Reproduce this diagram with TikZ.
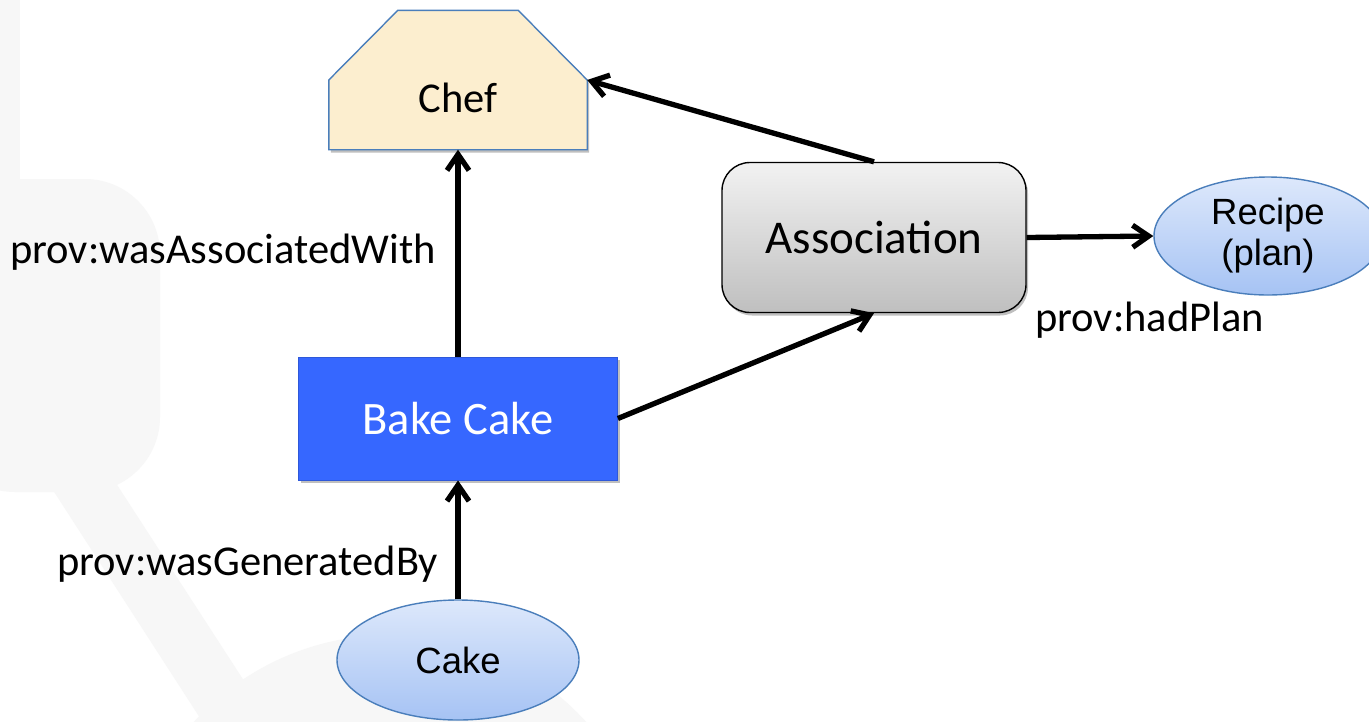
\documentclass[tikz,border=0pt]{standalone}
\usepackage{fontspec}
\setmainfont{Carlito}
\newfontfamily\arialfont{Liberation Sans}
\usetikzlibrary{arrows.meta,shapes.geometric,shadows,calc}

\definecolor{chefFill}{HTML}{FCEECF}
\definecolor{edgeBlue}{HTML}{4A7EBB}
\definecolor{activityBlue}{HTML}{3667FF}
\definecolor{entTop}{HTML}{DDE8FB}
\definecolor{entBot}{HTML}{A6C3F4}
\definecolor{assocTop}{HTML}{F2F2F2}
\definecolor{assocBot}{HTML}{BFBFBF}
\definecolor{wmGray}{HTML}{F7F7F7}

\begin{document}
\begin{tikzpicture}[x=1pt,y=-1pt,
  softshadow/.style={drop shadow={shadow xshift=2pt,shadow yshift=-3pt,opacity=0.25,fill=black}},
  agentframe/.style={rectangle,inner sep=0pt,minimum width=258pt,minimum height=139pt},
  activitybox/.style={rectangle,fill=activityBlue,draw=activityBlue!85!black,line width=0.8pt,
    text=white,minimum width=319pt,minimum height=123pt,inner sep=0pt,
    font=\fontsize{46.5}{52}\selectfont,softshadow},
  assocbox/.style={rectangle,rounded corners=28pt,draw=black,line width=1.4pt,
    top color=assocTop,bottom color=assocBot,minimum width=304pt,minimum height=150pt,
    inner sep=0pt,font=\fontsize{47}{54}\selectfont,softshadow},
  entity/.style={ellipse,draw=edgeBlue,line width=1.4pt,top color=entTop,bottom color=entBot,
    inner sep=0pt,align=center,font=\arialfont\fontsize{36.5}{41}\selectfont},
  lbl/.style={inner sep=0pt,font=\fontsize{42.5}{50}\selectfont},
  provarrow/.style={line width=5.3pt,-{Straight Barb[length=16pt,width=22pt]}}
]
\useasboundingbox (0,0) rectangle (1369,721);
\clip (0,0) rectangle (1369,721);
\fill[white] (0,0) rectangle (1369,721);

% faint logo in the background
\fill[wmGray] (0,0) rectangle (20,200);
\fill[wmGray,rounded corners=75pt] (-60,179) -- (160,179) -- (160,492) -- (-60,492) -- cycle;
\fill[wmGray] (40,470) -- (88,440) -- (270,721) -- (202,721) -- cycle;
\fill[wmGray] (390,900) circle[radius=265pt];

% agent: chamfered house shape
\node[agentframe] (chef) at (458,80) {};
\path[draw=edgeBlue,fill=chefFill,line width=1.4pt,softshadow]
  (chef.south west) -- (chef.west) -- ($(chef.north west)+(69,0)$)
  -- ($(chef.north east)+(-69,0)$) -- (chef.east) -- (chef.south east) -- cycle;
\node[lbl,anchor=base] (chefname) at (458,112) {Chef};

% activity, association and entities
\node[activitybox] (bake) at (458,418.5) {Bake Cake};
\node[assocbox] (assoc) at (874,237.5) {Association};
\node[entity,minimum width=228pt,minimum height=118pt] (recipe) at (1268,236) {Recipe\\(plan)};
\node[entity,minimum width=242pt,minimum height=120pt] (cake) at (458,660) {Cake};

% relations
\draw[provarrow] (bake.north) -- (chef.south);
\draw[provarrow] (cake.north) -- (bake.south);
\draw[provarrow] (assoc.north) -- (chef.east);
\draw[provarrow] (bake.east) -- (assoc.south);
\draw[provarrow] (assoc.east) -- (recipe.west);

% relation labels
\node[lbl,anchor=base west] (lblassoc) at (10,263) {prov:wasAssociatedWith};
\node[lbl,anchor=base west] (lblgen) at (57,575) {prov:wasGeneratedBy};
\node[lbl,anchor=base west] (lblplan) at (1035,331) {prov:hadPlan};
\end{tikzpicture}
\end{document}
